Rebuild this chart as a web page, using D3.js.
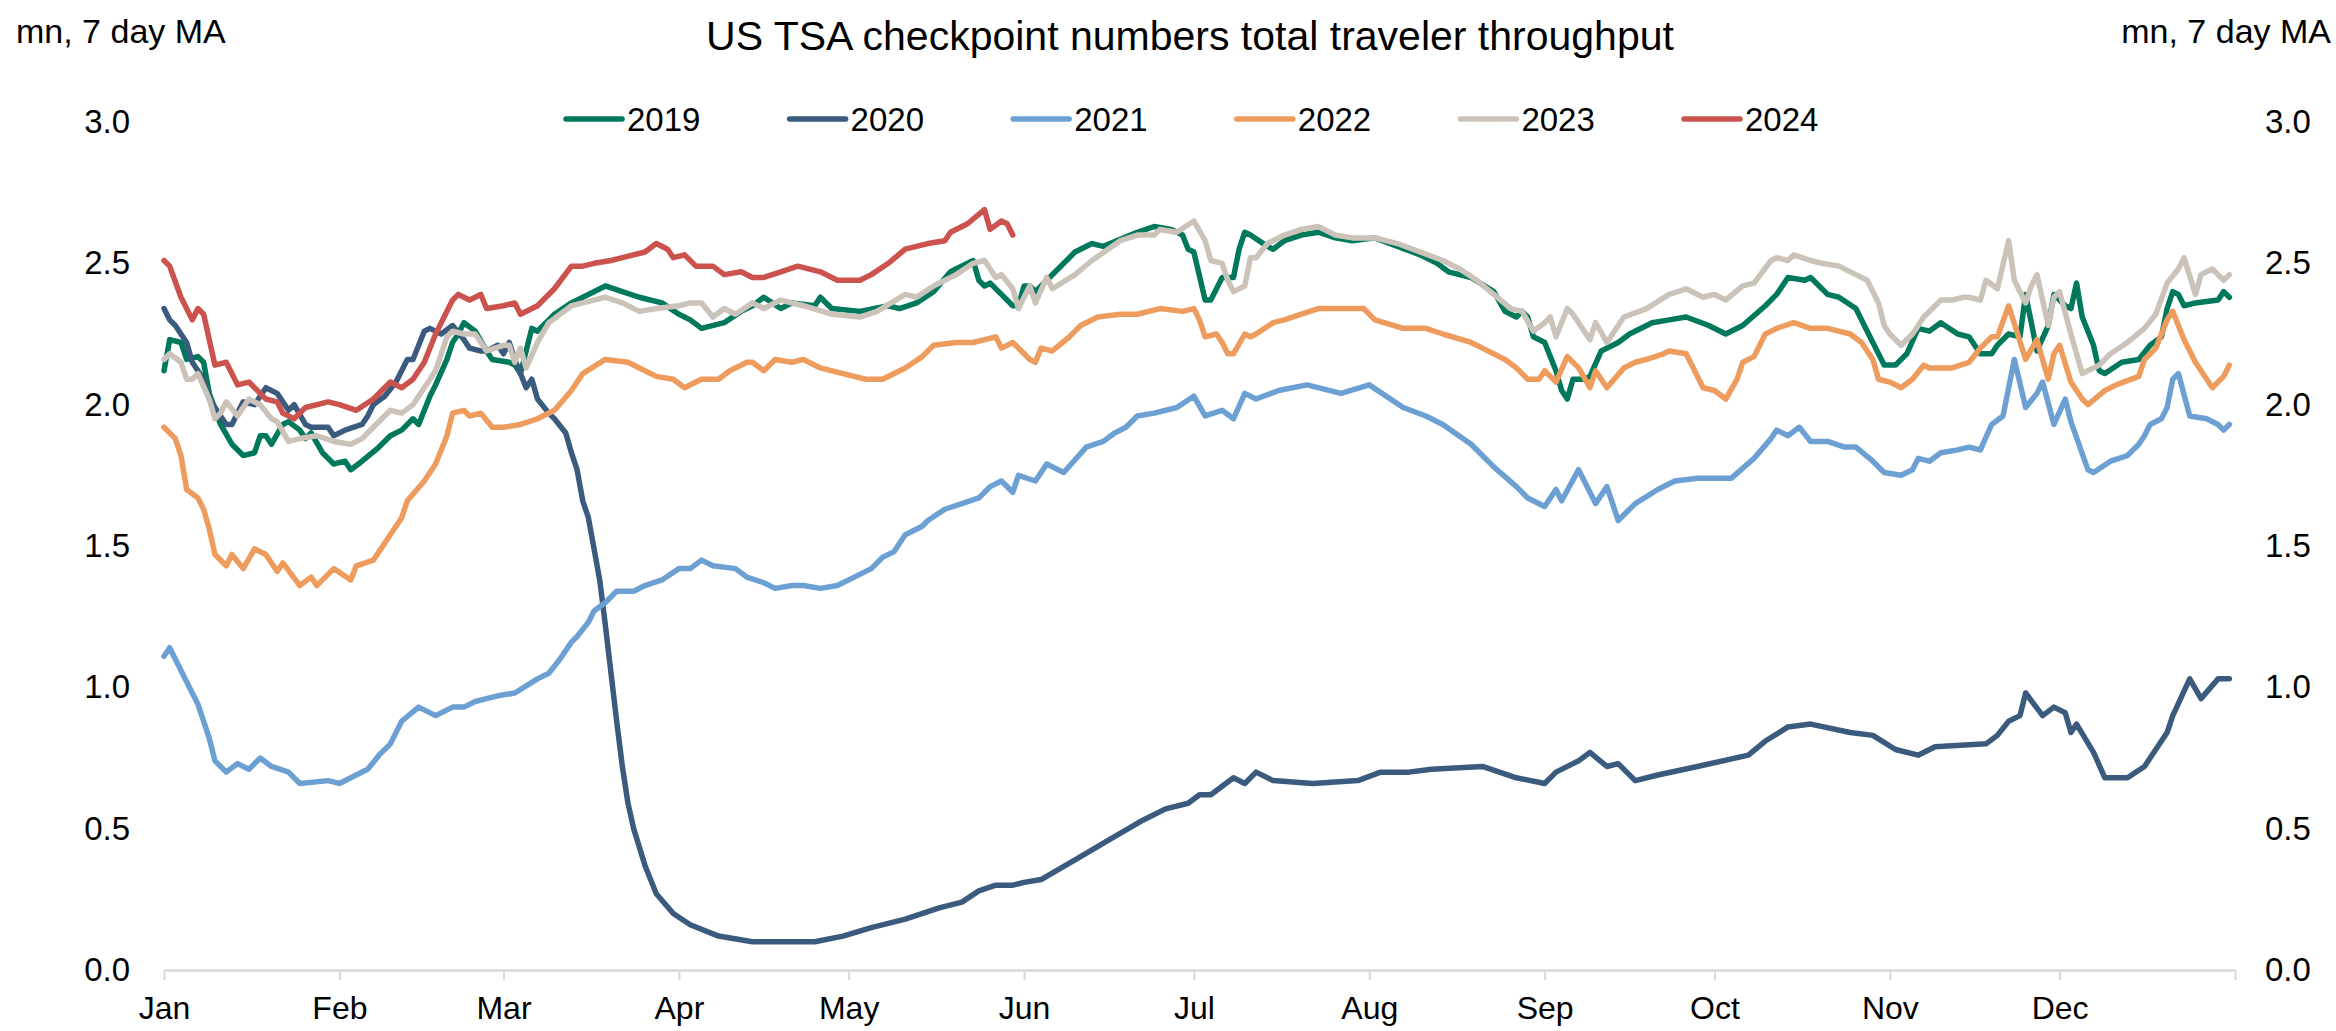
<!DOCTYPE html>
<html>
<head>
<meta charset="utf-8">
<script src="https://cdn.jsdelivr.net/npm/d3@7"></script>
<style>
  html, body { margin: 0; padding: 0; background: #fff; }
  #container { width: 2336px; height: 1031px; }
</style>
</head>
<body>
<div id="container"></div>
<script>
// series: [day of year (0 = 1 Jan), million travellers, 7 day MA]
const years = ['2019', '2020', '2021', '2022', '2023', '2024'];
const colors = ['#00785C', '#3A5B7E', '#6CA0D3', '#EE9B5E', '#CBC2BA', '#CC524D'];
const yTicks = [0, 0.5, 1, 1.5, 2, 2.5, 3];

const s2019 = [[0,2.12],[1,2.23],[3,2.22],[4,2.16],[6,2.17],[7,2.15],[8,2.04],[10,1.93],[12,1.86],[14,1.82],[16,1.83],[17,1.89],[18,1.89],[19,1.86],[21,1.93],[22,1.94],[24,1.91],[25,1.88],[26,1.90],[28,1.83],[30,1.79],[32,1.80],[33,1.77],[35,1.80],[38,1.85],[40,1.89],[42,1.91],[44,1.95],[45,1.93],[47,2.03],[48,2.07],[50,2.16],[51,2.22],[52,2.25],[53,2.29],[55,2.26],[57,2.19],[58,2.16],[61,2.15],[62,2.14],[63,2.11],[65,2.27],[66,2.26],[68,2.30],[69,2.32],[72,2.36],[75,2.39],[78,2.42],[81,2.40],[84,2.38],[88,2.36],[91,2.32],[93,2.30],[95,2.27],[99,2.29],[102,2.33],[104,2.35],[106,2.38],[109,2.34],[111,2.36],[115,2.35],[116,2.38],[118,2.34],[123,2.33],[128,2.35],[130,2.34],[133,2.36],[136,2.40],[139,2.47],[143,2.51],[144,2.44],[145,2.42],[146,2.43],[148,2.39],[150,2.35],[151,2.35],[152,2.42],[153,2.42],[154,2.40],[158,2.48],[161,2.54],[164,2.57],[166,2.56],[172,2.61],[175,2.63],[178,2.62],[180,2.60],[181,2.55],[182,2.54],[184,2.37],[185,2.37],[187,2.45],[189,2.45],[190,2.55],[191,2.61],[192,2.60],[195,2.56],[196,2.55],[198,2.58],[201,2.60],[204,2.61],[207,2.59],[210,2.58],[214,2.59],[218,2.56],[222,2.53],[225,2.50],[227,2.47],[231,2.45],[235,2.40],[237,2.33],[239,2.31],[240,2.33],[241,2.31],[242,2.24],[244,2.22],[246,2.12],[247,2.05],[248,2.02],[249,2.09],[251,2.09],[252,2.10],[254,2.19],[257,2.22],[259,2.25],[263,2.29],[266,2.30],[269,2.31],[273,2.28],[276,2.25],[279,2.28],[283,2.35],[285,2.39],[287,2.45],[290,2.44],[291,2.45],[294,2.39],[296,2.38],[299,2.34],[301,2.26],[303,2.18],[304,2.14],[306,2.14],[308,2.18],[310,2.27],[312,2.26],[314,2.29],[317,2.25],[319,2.24],[321,2.18],[323,2.18],[324,2.21],[326,2.25],[328,2.24],[329,2.39],[331,2.19],[333,2.28],[334,2.39],[336,2.35],[337,2.34],[338,2.43],[339,2.31],[341,2.21],[342,2.12],[343,2.11],[346,2.15],[349,2.16],[351,2.21],[353,2.24],[354,2.34],[355,2.40],[356,2.39],[357,2.35],[359,2.36],[363,2.37],[364,2.40],[365,2.38]];

const s2020 = [[0,2.34],[1,2.30],[2,2.28],[4,2.22],[5,2.15],[7,2.09],[8,2.02],[10,1.96],[11,1.93],[12,1.93],[13,1.97],[14,2.01],[16,2.00],[17,2.03],[18,2.06],[20,2.04],[21,2.01],[22,1.98],[23,2.00],[25,1.93],[26,1.92],[29,1.92],[30,1.89],[32,1.91],[35,1.93],[36,1.96],[37,2.00],[39,2.03],[41,2.08],[43,2.16],[44,2.16],[46,2.26],[47,2.27],[49,2.25],[51,2.28],[53,2.23],[54,2.20],[56,2.19],[57,2.19],[59,2.21],[60,2.18],[61,2.22],[62,2.16],[64,2.06],[65,2.09],[66,2.02],[68,1.97],[69,1.95],[71,1.90],[72,1.83],[73,1.77],[74,1.66],[75,1.60],[76,1.49],[77,1.38],[78,1.22],[79,1.05],[80,0.88],[81,0.72],[82,0.59],[83,0.50],[85,0.37],[87,0.27],[90,0.20],[93,0.16],[98,0.12],[104,0.10],[109,0.10],[115,0.10],[120,0.12],[125,0.15],[131,0.18],[137,0.22],[141,0.24],[144,0.28],[147,0.30],[150,0.30],[152,0.31],[155,0.32],[161,0.39],[167,0.46],[173,0.53],[177,0.57],[181,0.59],[183,0.62],[185,0.62],[189,0.68],[191,0.66],[193,0.70],[196,0.67],[203,0.66],[211,0.67],[215,0.70],[220,0.70],[224,0.71],[233,0.72],[239,0.68],[244,0.66],[246,0.70],[249,0.73],[250,0.74],[252,0.77],[255,0.72],[257,0.73],[260,0.67],[264,0.69],[271,0.72],[280,0.76],[283,0.81],[287,0.86],[291,0.87],[298,0.84],[302,0.83],[306,0.78],[310,0.76],[313,0.79],[322,0.80],[324,0.83],[326,0.88],[328,0.90],[329,0.98],[332,0.90],[334,0.93],[336,0.91],[337,0.84],[338,0.87],[341,0.77],[343,0.68],[347,0.68],[350,0.72],[352,0.78],[354,0.84],[355,0.90],[358,1.03],[360,0.96],[363,1.03],[365,1.03]];

const s2021 = [[0,1.11],[1,1.14],[4,1.02],[6,0.94],[8,0.82],[9,0.74],[11,0.70],[13,0.73],[15,0.71],[17,0.75],[19,0.72],[22,0.70],[24,0.66],[29,0.67],[31,0.66],[33,0.68],[36,0.71],[38,0.76],[40,0.80],[42,0.88],[45,0.93],[48,0.90],[51,0.93],[53,0.93],[55,0.95],[57,0.96],[59,0.97],[62,0.98],[66,1.03],[68,1.05],[70,1.10],[72,1.16],[73,1.18],[75,1.23],[76,1.27],[78,1.30],[80,1.34],[83,1.34],[85,1.36],[88,1.38],[91,1.42],[93,1.42],[95,1.45],[97,1.43],[101,1.42],[103,1.39],[106,1.37],[108,1.35],[111,1.36],[113,1.36],[116,1.35],[119,1.36],[122,1.39],[125,1.42],[127,1.46],[129,1.48],[131,1.54],[134,1.57],[135,1.59],[138,1.63],[141,1.65],[144,1.67],[146,1.71],[148,1.73],[150,1.69],[151,1.75],[154,1.73],[156,1.79],[159,1.76],[163,1.85],[166,1.87],[168,1.90],[170,1.92],[172,1.96],[175,1.97],[179,1.99],[182,2.03],[184,1.96],[187,1.98],[189,1.95],[191,2.04],[193,2.02],[197,2.05],[202,2.07],[208,2.04],[213,2.07],[219,1.99],[223,1.96],[226,1.93],[231,1.86],[235,1.78],[239,1.71],[241,1.67],[244,1.64],[246,1.70],[247,1.66],[250,1.77],[251,1.73],[253,1.65],[255,1.71],[257,1.59],[260,1.65],[264,1.70],[267,1.73],[271,1.74],[277,1.74],[281,1.81],[284,1.88],[285,1.91],[287,1.89],[289,1.92],[291,1.87],[294,1.87],[297,1.85],[299,1.85],[302,1.80],[304,1.76],[307,1.75],[309,1.77],[310,1.81],[312,1.80],[314,1.83],[317,1.84],[319,1.85],[321,1.84],[323,1.93],[325,1.96],[327,2.16],[329,1.99],[331,2.04],[332,2.08],[334,1.93],[336,2.02],[337,1.94],[340,1.77],[341,1.76],[344,1.80],[347,1.82],[349,1.86],[350,1.89],[351,1.93],[353,1.95],[354,1.99],[355,2.09],[356,2.11],[358,1.96],[361,1.95],[363,1.93],[364,1.91],[365,1.93]];

const s2022 = [[0,1.92],[2,1.88],[3,1.82],[4,1.70],[6,1.67],[7,1.63],[8,1.56],[9,1.47],[11,1.43],[12,1.47],[14,1.42],[16,1.49],[18,1.47],[20,1.41],[21,1.44],[24,1.36],[26,1.39],[27,1.36],[30,1.42],[33,1.38],[34,1.43],[37,1.45],[40,1.54],[42,1.60],[43,1.66],[46,1.73],[48,1.79],[50,1.89],[51,1.97],[53,1.98],[54,1.96],[56,1.97],[58,1.92],[60,1.92],[63,1.93],[66,1.95],[69,1.98],[72,2.05],[74,2.11],[78,2.16],[82,2.15],[84,2.13],[87,2.10],[90,2.09],[92,2.06],[94,2.08],[95,2.09],[98,2.09],[100,2.12],[103,2.15],[104,2.15],[106,2.12],[108,2.16],[111,2.15],[113,2.16],[116,2.13],[120,2.11],[124,2.09],[127,2.09],[131,2.13],[134,2.17],[136,2.21],[140,2.22],[143,2.22],[147,2.24],[148,2.20],[150,2.22],[153,2.16],[154,2.15],[155,2.20],[157,2.19],[160,2.24],[162,2.28],[165,2.31],[169,2.32],[172,2.32],[176,2.34],[180,2.33],[182,2.34],[183,2.30],[184,2.24],[186,2.25],[187,2.22],[188,2.18],[189,2.18],[191,2.25],[192,2.24],[193,2.25],[196,2.29],[198,2.30],[201,2.32],[204,2.34],[209,2.34],[212,2.34],[214,2.30],[219,2.27],[223,2.27],[226,2.25],[231,2.22],[233,2.20],[237,2.16],[239,2.13],[241,2.09],[243,2.09],[244,2.12],[246,2.08],[248,2.17],[250,2.13],[252,2.06],[253,2.12],[255,2.06],[258,2.13],[260,2.15],[262,2.16],[265,2.18],[266,2.19],[269,2.18],[272,2.06],[274,2.05],[276,2.02],[278,2.09],[279,2.15],[281,2.17],[283,2.25],[285,2.27],[288,2.29],[291,2.27],[294,2.27],[298,2.25],[300,2.22],[302,2.16],[303,2.09],[305,2.08],[307,2.06],[309,2.09],[311,2.14],[312,2.13],[316,2.13],[319,2.15],[321,2.20],[323,2.24],[324,2.24],[326,2.35],[329,2.16],[331,2.23],[333,2.09],[334,2.18],[335,2.21],[337,2.08],[339,2.02],[340,2.00],[343,2.05],[345,2.07],[349,2.10],[350,2.16],[352,2.20],[354,2.30],[355,2.33],[357,2.23],[359,2.15],[360,2.12],[362,2.06],[364,2.10],[365,2.14]];

const s2023 = [[0,2.16],[1,2.18],[3,2.15],[4,2.09],[5,2.09],[6,2.11],[8,2.02],[9,1.95],[10,1.97],[11,2.01],[13,1.96],[15,2.02],[17,2.00],[19,1.95],[20,1.94],[22,1.87],[24,1.88],[27,1.89],[30,1.87],[33,1.86],[35,1.88],[37,1.92],[40,1.98],[42,1.97],[44,2.00],[46,2.06],[48,2.12],[50,2.24],[51,2.26],[53,2.25],[55,2.25],[57,2.19],[60,2.21],[61,2.21],[62,2.15],[63,2.20],[64,2.13],[66,2.22],[68,2.29],[72,2.35],[74,2.36],[78,2.38],[81,2.36],[84,2.33],[87,2.34],[91,2.35],[93,2.36],[95,2.36],[97,2.31],[99,2.34],[101,2.32],[104,2.36],[106,2.34],[109,2.37],[113,2.35],[118,2.32],[123,2.31],[126,2.33],[131,2.39],[133,2.38],[136,2.42],[140,2.46],[143,2.50],[145,2.51],[147,2.45],[148,2.46],[150,2.41],[151,2.34],[153,2.42],[154,2.36],[156,2.45],[157,2.41],[161,2.46],[164,2.51],[169,2.58],[172,2.60],[175,2.60],[176,2.62],[179,2.61],[182,2.65],[184,2.58],[185,2.51],[187,2.50],[188,2.44],[189,2.40],[191,2.42],[192,2.52],[193,2.52],[195,2.57],[198,2.60],[201,2.62],[204,2.63],[207,2.60],[210,2.59],[214,2.59],[218,2.57],[222,2.54],[226,2.51],[229,2.48],[232,2.44],[235,2.39],[238,2.34],[240,2.33],[242,2.26],[244,2.29],[245,2.31],[246,2.24],[248,2.34],[249,2.32],[252,2.23],[253,2.29],[255,2.22],[257,2.28],[258,2.31],[262,2.34],[266,2.39],[269,2.41],[272,2.38],[274,2.39],[276,2.37],[279,2.42],[281,2.43],[284,2.51],[285,2.52],[287,2.51],[288,2.53],[291,2.51],[293,2.50],[296,2.49],[299,2.46],[301,2.44],[303,2.36],[304,2.28],[305,2.25],[307,2.21],[309,2.25],[311,2.31],[313,2.35],[314,2.37],[316,2.37],[318,2.38],[319,2.38],[321,2.37],[322,2.44],[324,2.41],[326,2.58],[327,2.44],[329,2.36],[330,2.42],[331,2.46],[333,2.28],[334,2.38],[335,2.40],[337,2.25],[339,2.11],[342,2.14],[344,2.18],[347,2.22],[350,2.27],[352,2.32],[354,2.43],[356,2.48],[357,2.52],[359,2.39],[360,2.46],[362,2.48],[363,2.46],[364,2.44],[365,2.46]];

const s2024 = [[0,2.51],[1,2.49],[3,2.38],[5,2.30],[6,2.34],[7,2.32],[9,2.14],[11,2.15],[13,2.07],[15,2.08],[18,2.02],[20,2.01],[21,1.97],[23,1.95],[25,1.99],[29,2.01],[31,2.00],[34,1.98],[37,2.02],[40,2.08],[42,2.06],[44,2.09],[46,2.15],[48,2.25],[51,2.37],[52,2.39],[54,2.37],[56,2.39],[57,2.34],[60,2.35],[62,2.36],[63,2.32],[66,2.35],[69,2.41],[72,2.49],[74,2.49],[76,2.50],[79,2.51],[81,2.52],[85,2.54],[87,2.57],[89,2.55],[90,2.52],[92,2.53],[94,2.49],[97,2.49],[99,2.46],[102,2.47],[104,2.45],[106,2.45],[109,2.47],[112,2.49],[116,2.47],[119,2.44],[123,2.44],[125,2.46],[128,2.50],[131,2.55],[135,2.57],[138,2.58],[139,2.61],[142,2.64],[145,2.69],[146,2.62],[148,2.65],[149,2.64],[150,2.60]];

const seriesData = [s2019, s2020, s2021, s2022, s2023, s2024];

const width = 2336, height = 1031;
const margin = {left: 164, right: 101, top: 122, bottom: 61};
const baseYear = 2024; // leap-year calendar for the shared x axis
const dayToDate = d => new Date(baseYear, 0, 1 + d);
const monthFormat = d3.timeFormat('%b');

let viz = d3.select('#container')
    .append('svg')
    .attr('width', width)
    .attr('height', height)
    .style('font-family', '"Liberation Sans", Arial, sans-serif')
    .style('background', '#ffffff');

let x = d3.scaleTime()
    .domain([new Date(baseYear, 0, 1), new Date(baseYear + 1, 0, 1)])
    .range([margin.left, width - margin.right]);

let y = d3.scaleLinear()
    .domain([0, 3])
    .range([height - margin.bottom, margin.top]);

// title and unit labels
viz.append('text')
    .text('US TSA checkpoint numbers total traveler throughput')
    .attr('x', 1190)
    .attr('y', 50)
    .attr('text-anchor', 'middle')
    .attr('font-size', 41)
    .attr('fill', '#000');

viz.append('text')
    .text('mn, 7 day MA')
    .attr('x', 16)
    .attr('y', 43)
    .attr('font-size', 34)
    .attr('fill', '#000');

viz.append('text')
    .text('mn, 7 day MA')
    .attr('x', 2331)
    .attr('y', 43)
    .attr('text-anchor', 'end')
    .attr('font-size', 34)
    .attr('fill', '#000');

// x axis
let xAxis = d3.axisBottom(x)
    .tickValues(d3.timeMonth.range(new Date(baseYear, 0, 1), new Date(baseYear + 1, 0, 2)))
    .tickFormat(d => d.getFullYear() === baseYear ? monthFormat(d) : '')
    .tickSizeInner(10)
    .tickSizeOuter(0)
    .tickPadding(16);

let xAxisG = viz.append('g')
    .attr('transform', `translate(0,${y(0)})`)
    .call(xAxis);
xAxisG.select('.domain').attr('stroke', '#D9D9D9').attr('stroke-width', 2.5);
xAxisG.selectAll('.tick line').attr('stroke', '#D9D9D9').attr('stroke-width', 2);
xAxisG.selectAll('.tick text')
    .attr('font-size', 32)
    .attr('font-family', '"Liberation Sans", Arial, sans-serif')
    .attr('fill', '#000');

// y axes, labels only
let yLeft = viz.append('g')
    .attr('transform', `translate(${margin.left},0)`)
    .call(d3.axisLeft(y).tickValues(yTicks).tickFormat(d3.format('.1f')).tickSize(0).tickPadding(34));
let yRight = viz.append('g')
    .attr('transform', `translate(${width - margin.right},0)`)
    .call(d3.axisRight(y).tickValues(yTicks).tickFormat(d3.format('.1f')).tickSize(0).tickPadding(30));
[yLeft, yRight].forEach(g => {
    g.select('.domain').remove();
    g.selectAll('.tick text')
        .attr('font-size', 33)
        .attr('font-family', '"Liberation Sans", Arial, sans-serif')
        .attr('fill', '#000');
});

// lines
let line = d3.line()
    .x(d => x(dayToDate(d[0])))
    .y(d => y(d[1]));

let lines = viz.append('g').attr('id', 'lines');
seriesData.forEach((s, i) => {
    lines.append('path')
        .datum(s)
        .attr('d', line)
        .attr('fill', 'none')
        .attr('stroke', colors[i])
        .attr('stroke-width', 5.5)
        .attr('stroke-linejoin', 'round')
        .attr('stroke-linecap', 'round');
});

// legend
let legend = viz.append('g').attr('id', 'legend');
let legendItems = legend.selectAll('.legendItem').data(years)
    .enter()
    .append('g')
    .attr('class', 'legendItem')
    .attr('transform', (d, i) => `translate(${566 + i * 223.6},119)`);

legendItems.append('line')
    .attr('x1', 0)
    .attr('x2', 56)
    .attr('stroke', (d, i) => colors[i])
    .attr('stroke-width', 5.5)
    .attr('stroke-linecap', 'round');

legendItems.append('text')
    .text(d => d)
    .attr('x', 61)
    .attr('y', 12)
    .attr('font-size', 33)
    .attr('fill', '#000');
</script>
</body>
</html>
